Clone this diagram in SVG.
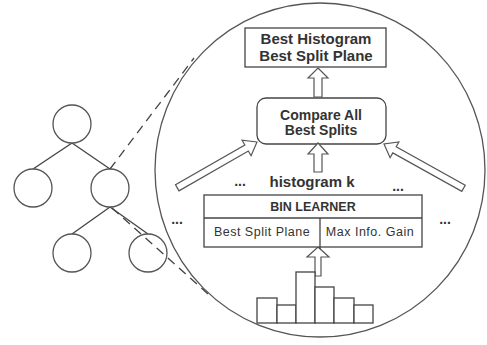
<svg xmlns="http://www.w3.org/2000/svg" width="487" height="345" viewBox="0 0 487 345">
<style>
.ln{fill:none;stroke:#444;stroke-width:1.3}
.nd{fill:#fff;stroke:#555;stroke-width:1.3}
.bx{fill:#fff;stroke:#444;stroke-width:1.3}
.ar{fill:#fff;stroke:#555;stroke-width:1.2;stroke-linejoin:miter}
.dash{fill:none;stroke:#444;stroke-width:1.3;stroke-dasharray:9 6}
.b{font-family:"Liberation Sans",Arial,sans-serif;font-weight:bold;fill:#333;text-anchor:middle}
.r{font-family:"Liberation Sans",Arial,sans-serif;fill:#333;text-anchor:middle}
</style>
<rect width="487" height="345" fill="#fff"/>
<g id="tree-edges" class="ln">
<line x1="72" y1="143" x2="33" y2="169"/>
<line x1="72" y1="143" x2="110" y2="169"/>
<line x1="110" y1="207" x2="72" y2="234"/>
<line x1="110" y1="207" x2="148" y2="234"/>
</g>
<g id="n-root"><circle class="nd" cx="72" cy="124" r="19"/></g>
<g id="n-left"><circle class="nd" cx="33" cy="188" r="19"/></g>
<g id="n-right"><circle class="nd" cx="110" cy="188" r="19"/></g>
<g id="n-rl"><circle class="nd" cx="72" cy="253" r="19"/></g>
<g id="n-rr"><circle class="nd" cx="148" cy="253" r="19"/></g>
<g id="zoom-lines">
<line class="dash" x1="110" y1="169" x2="194" y2="58"/>
<line class="dash" x1="112" y1="208" x2="208" y2="294"/>
</g>
<g id="lens"><ellipse cx="320" cy="170" rx="165" ry="167" fill="none" stroke="#555" stroke-width="1.3"/></g>
<g id="best-box">
<rect class="bx" x="245" y="28" width="141" height="39"/>
<text class="b" x="316" y="44" font-size="15">Best Histogram</text>
<text class="b" x="316" y="61" font-size="15">Best Split Plane</text>
</g>
<g id="compare">
<rect class="bx" x="257" y="98" width="129" height="46" rx="9"/>
<text class="b" x="321" y="120" font-size="14" fill="#3a3a3a">Compare All</text>
<text class="b" x="321" y="135" font-size="14" fill="#3a3a3a">Best Splits</text>
</g>
<g id="connectors">
<polygon class="ar" points="318,68 328,78 322,78 322,97 314,97 314,78 308,78"/>
<polygon class="ar" points="318,143 328,154 322,154 322,172 314,172 314,154 308,154"/>
<polygon class="ar" points="0,0 -12,-9 -12,-3.5 -92,-3.5 -92,3.5 -12,3.5 -12,9" transform="translate(257,142) rotate(-29.9)"/>
<polygon class="ar" points="0,0 -12,-9 -12,-3.5 -91,-3.5 -91,3.5 -12,3.5 -12,9" transform="translate(384,144) rotate(209.1)"/>
<polygon class="ar" points="318,247 329,257 321,257 321,276 315,276 315,257 307,257"/>
</g>
<g id="labels">
<text class="b" x="312" y="187" font-size="15">histogram k</text>
<text class="b" x="240" y="186" font-size="14">...</text>
<text class="b" x="398" y="191" font-size="14">...</text>
<text class="b" x="177" y="224" font-size="14">...</text>
<text class="b" x="445" y="224" font-size="14">...</text>
</g>
<g id="bin-learner">
<rect class="bx" x="204" y="195" width="218" height="52"/>
<line class="ln" x1="204" y1="218" x2="422" y2="218"/>
<line class="ln" x1="320" y1="218" x2="320" y2="249"/>
<text class="b" x="313" y="211" font-size="12.5">BIN LEARNER</text>
<text class="r" x="262" y="236" font-size="12.5" letter-spacing="0.5">Best Split Plane</text>
<text class="r" x="370" y="236" font-size="12.5" letter-spacing="0.5">Max Info. Gain</text>
</g>
<g id="histogram" class="bx">
<rect x="257" y="298" width="20" height="25"/>
<rect x="277" y="305" width="19" height="18"/>
<rect x="296" y="272" width="19" height="51"/>
<rect x="315" y="287" width="19" height="36"/>
<rect x="334" y="298" width="20" height="25"/>
<rect x="354" y="305" width="19" height="18"/>
</g>
</svg>
